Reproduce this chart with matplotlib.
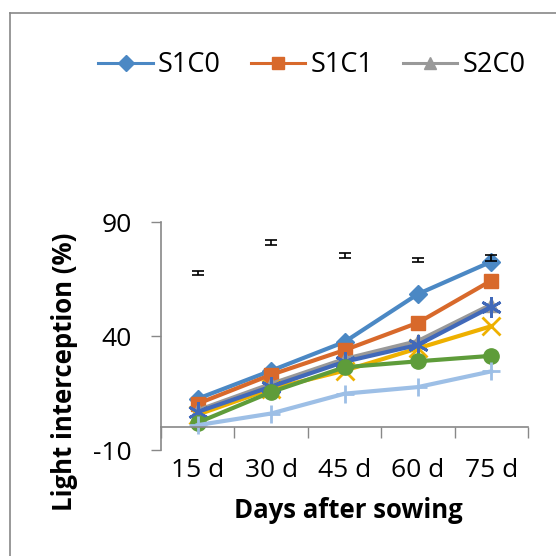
import numpy as np
import matplotlib.pyplot as plt
from matplotlib.lines import Line2D
from matplotlib.transforms import blended_transform_factory

plt.rcParams["font.family"] = ["Open Sans", "DejaVu Sans"]
plt.rcParams["axes.unicode_minus"] = False

# days after sowing
days = ["15 d", "30 d", "45 d", "60 d", "75 d"]

# light interception (%) per treatment
s1c0 = [12.5, 24.8, 37.4, 58.4, 72.6]
s1c1 = [10.3, 23.0, 33.8, 45.8, 64.3]
s2c0 = [7.4, 19.0, 29.9, 37.8, 53.8]
s2c1 = [5.5, 16.8, 24.8, 34.6, 44.3]
s3c0 = [6.7, 17.8, 28.7, 36.1, 52.8]
s3c1 = [2.0, 15.4, 26.3, 28.9, 31.3]
s4c0 = [0.9, 6.0, 14.7, 17.6, 24.5]

# LSD bars drawn above the lines
lsd_mid = [67.8, 81.1, 75.4, 73.3, 74.3]
lsd_err = [0.9, 1.2, 1.1, 0.8, 1.2]

series = [
    ("S1C0", s1c0, "#4b88c4", "D", 9),
    ("S1C1", s1c1, "#d8692b", "s", 10),
    ("S2C0", s2c0, "#999999", "^", 10),
    ("S2C1", s2c1, "#eeb000", "x", 13),
    ("S3C0", s3c0, "#4169b9", (6, 2, 0), 15),
    ("S3C1", s3c1, "#5e9c3a", "o", 11),
    ("S4C0", s4c0, "#9dbfe6", "+", 13),
]

fig = plt.figure(figsize=(5.56, 5.56), dpi=100)
ax = fig.add_axes([161 / 556, 1 - 450 / 556, 367 / 556, 228 / 556])

x = np.arange(len(days))
handles = []
for name, vals, col, mk, ms in series:
    ln, = ax.plot(x, vals, color=col, lw=3, marker=mk, ms=ms,
                  mew=2 if mk in ("x", "+", (6, 2, 0)) else 1,
                  mec=col, mfc=col, solid_joinstyle="round")
    handles.append(ln)

ax.errorbar(x, lsd_mid, yerr=lsd_err, fmt="none", ecolor="black",
            elinewidth=1.2, capsize=4, capthick=1.2)

ax.set_xlim(-0.5, 4.5)
ax.set_ylim(-10, 90)
ax.set_yticks([-10, 40, 90])
ax.tick_params(axis="y", labelsize=19, length=7, width=1, color="#888888", pad=14)

# category axis crosses at zero, labels sit at the bottom
ax.spines["bottom"].set_position(("data", 0))
ax.set_xticks(np.arange(-0.5, 5.0, 1.0))
ax.set_xticklabels([])
ax.tick_params(axis="x", length=8, width=1, color="#888888", direction="out")
trans = blended_transform_factory(ax.transData, ax.transAxes)
for i, d in enumerate(days):
    ax.text(i, -0.09, d, transform=trans, ha="center", va="center", fontsize=19)

for s in ("top", "right"):
    ax.spines[s].set_visible(False)
for s in ("left", "bottom"):
    ax.spines[s].set_color("#888888")
    ax.spines[s].set_linewidth(1.2)

fig.text(348 / 556, 1 - 510 / 556, "Days after sowing", ha="center", va="center",
         fontsize=18.5, fontweight="bold")
fig.text(65 / 556, 1 - 372 / 556, "Light interception (%)", ha="center", va="center",
         rotation=90, fontsize=18.5, fontweight="bold")

legend_handles = [Line2D([0], [0], color=h.get_color(), lw=2.2, marker=h.get_marker(),
                         ms=8, mec=h.get_color(), mfc=h.get_color()) for h in handles[:3]]
fig.legend(legend_handles, [s[0] for s in series[:3]], loc="center",
           bbox_to_anchor=(312 / 556, 1 - 65 / 556), ncol=3, frameon=False,
           fontsize=19.5, handlelength=2.0, handletextpad=0.2, columnspacing=1.1)

# chart area border (cropped on right and bottom)
fig.add_artist(Line2D([10 / 556, 10 / 556], [0, 1 - 13 / 556], color="#888888", lw=1.2))
fig.add_artist(Line2D([10 / 556, 1], [1 - 13 / 556, 1 - 13 / 556], color="#888888", lw=1.2))

fig.savefig("out.png", dpi=100)
